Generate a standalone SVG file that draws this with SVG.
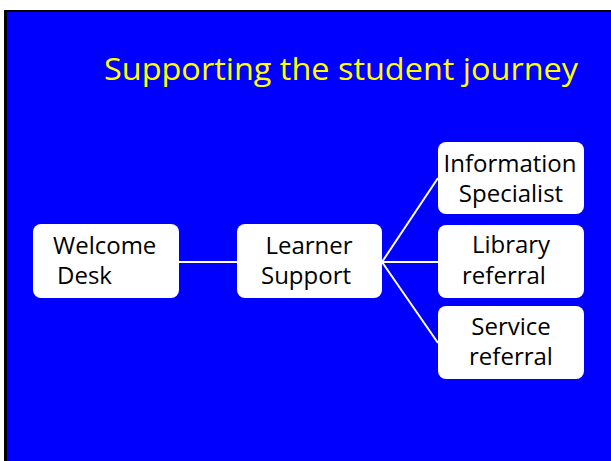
<svg xmlns="http://www.w3.org/2000/svg" width="611" height="461" viewBox="0 0 611 461">
<style>
.box{fill:#fff;}
.t{font-family:"Open Sans","Liberation Sans",Arial,sans-serif;font-size:24px;fill:#000;}
.c{text-anchor:middle;}
.ln{stroke:#fff;stroke-width:2;fill:none;}
</style>
<rect x="0" y="0" width="611" height="461" fill="#fff"/>
<rect x="4" y="10" width="607" height="451" fill="#000"/>
<rect x="7" y="12" width="604" height="449" fill="#0000ff"/>
<text x="104" y="80" font-family="Open Sans,Liberation Sans,Arial,sans-serif" font-size="31" fill="#ffff00" textLength="474" lengthAdjust="spacingAndGlyphs">Supporting the student journey</text>
<g id="connectors">
<line class="ln" x1="179" y1="262" x2="237" y2="262"/>
<line class="ln" x1="382" y1="262" x2="438" y2="178"/>
<line class="ln" x1="382" y1="262" x2="438" y2="262"/>
<line class="ln" x1="382" y1="262" x2="438" y2="343"/>
</g>
<g id="welcome">
<rect class="box" x="33" y="224" width="146" height="74" rx="8"/>
<text class="t" x="53" y="254">Welcome</text>
<text class="t" x="57" y="284">Desk</text>
</g>
<g id="learner">
<rect class="box" x="237" y="224" width="145" height="74" rx="8"/>
<text class="t c" x="309" y="254">Learner</text>
<text class="t c" x="306" y="284">Support</text>
</g>
<g id="info">
<rect class="box" x="438" y="142" width="146" height="72" rx="8"/>
<text class="t c" x="510" y="172">Information</text>
<text class="t c" x="511" y="202">Specialist</text>
</g>
<g id="library">
<rect class="box" x="438" y="225" width="146" height="73" rx="8"/>
<text class="t c" x="511" y="253">Library</text>
<text class="t c" x="504" y="284">referral</text>
</g>
<g id="service">
<rect class="box" x="438" y="306" width="146" height="73" rx="8"/>
<text class="t c" x="511" y="335">Service</text>
<text class="t c" x="511" y="365">referral</text>
</g>
</svg>
